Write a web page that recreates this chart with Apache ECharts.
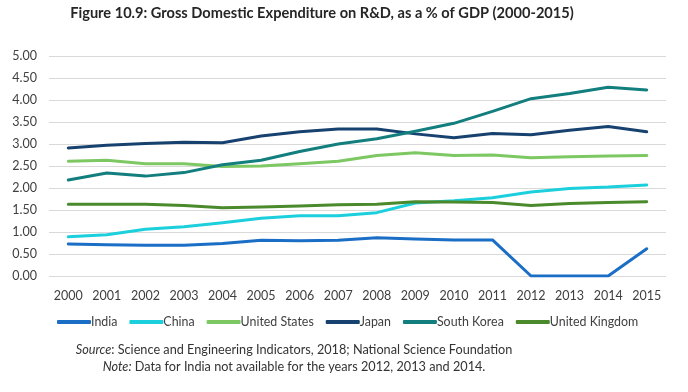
<!DOCTYPE html>
<html><head><meta charset="utf-8">
<script src="https://cdn.jsdelivr.net/npm/echarts@6/dist/echarts.min.js"></script>
<style>html,body{margin:0;padding:0;background:#fff}#c{width:688px;height:392px}</style>
</head><body><div id="c"></div>
<script>
var years = ['2000','2001','2002','2003','2004','2005','2006','2007','2008','2009','2010','2011','2012','2013','2014','2015'];
var india = [0.73,0.71,0.70,0.70,0.74,0.81,0.80,0.81,0.87,0.84,0.82,0.82,0,0,0,0.62];
var china = [0.89,0.94,1.06,1.12,1.21,1.31,1.37,1.37,1.44,1.66,1.71,1.78,1.91,1.99,2.02,2.07];
var unitedStates = [2.61,2.63,2.55,2.55,2.49,2.50,2.55,2.61,2.74,2.80,2.74,2.75,2.69,2.71,2.73,2.74];
var japan = [2.91,2.97,3.01,3.04,3.03,3.18,3.28,3.34,3.34,3.23,3.14,3.24,3.21,3.31,3.40,3.28];
var southKorea = [2.18,2.34,2.27,2.35,2.53,2.63,2.83,3.00,3.12,3.29,3.47,3.74,4.03,4.15,4.29,4.23];
var unitedKingdom = [1.63,1.63,1.63,1.60,1.55,1.57,1.59,1.62,1.63,1.69,1.68,1.67,1.60,1.65,1.67,1.69];
var yTicks = [0,0.5,1,1.5,2,2.5,3,3.5,4,4.5,5];

var seriesDefs = [
  ['India', india, '#1b6ec5'],
  ['China', china, '#1ccfdd'],
  ['United States', unitedStates, '#7dc862'],
  ['Japan', japan, '#17426f'],
  ['South Korea', southKorea, '#137e7e'],
  ['United Kingdom', unitedKingdom, '#4a8a2c']
];
var FONT = 'Lato';
var chart = echarts.init(document.getElementById('c'), null, {renderer:'canvas'});
chart.setOption({
  animation:false,
  color: seriesDefs.map(function(s){return s[2];}),
  grid:{left:49, right:22, top:56, bottom:116},
  xAxis:{type:'category', data:years, boundaryGap:true,
    axisLine:{show:false}, axisTick:{show:false},
    axisLabel:{color:'#404040', fontFamily:FONT, fontSize:12.5, margin:13}},
  yAxis:{type:'value', min:yTicks[0], max:yTicks[yTicks.length-1], interval:0.5,
    axisLine:{show:false}, axisTick:{show:false},
    splitLine:{lineStyle:{color:'#d9d9d9', width:1}},
    axisLabel:{color:'#404040', fontFamily:FONT, fontSize:12.5, margin:12,
      formatter:function(v){return v.toFixed(2);}}},
  legend:{left:52, top:311, itemWidth:34, itemHeight:4, itemGap:12, icon:'roundRect',
    textStyle:{color:'#404040', fontFamily:FONT, fontSize:12.4, padding:[0,0,0,-5]},
    data: seriesDefs.map(function(s){return s[0];})},
  graphic:[
    {type:'text', x:322, y:6, style:{text:'Figure 10.9: Gross Domestic Expenditure on R&D, as a % of GDP (2000-2015)',
      textAlign:'center', font:'bold 14.6px '+FONT, fill:'#262626'}},
    {type:'text', x:294, y:343, style:{text:'{i|Source}: Science and Engineering Indicators, 2018; National Science Foundation',
      textAlign:'center', font:'12.7px '+FONT, fill:'#333', rich:{i:{fontStyle:'italic', fontFamily:FONT, fontSize:12.7, fill:'#333'}}}},
    {type:'text', x:294, y:360, style:{text:'{i|Note:} Data for India not available for the years 2012, 2013 and 2014.',
      textAlign:'center', font:'12.7px '+FONT, fill:'#333', rich:{i:{fontStyle:'italic', fontFamily:FONT, fontSize:12.7, fill:'#333'}}}}
  ],
  series: seriesDefs.map(function(s){
    return {name:s[0], type:'line', data:s[1], symbol:'none', smooth:false,
      lineStyle:{width:3, color:s[2], cap:'round', join:'round'}, itemStyle:{color:s[2]}};
  })
});
</script></body></html>
